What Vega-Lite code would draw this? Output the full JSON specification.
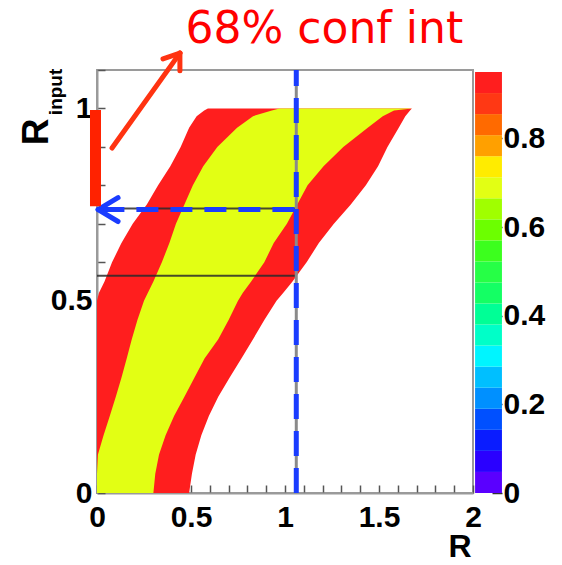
{
  "$schema": "https://vega.github.io/schema/vega-lite/v6.json",
  "width": 376,
  "height": 423,
  "autosize": {"type": "none"},
  "padding": {"left": 97, "top": 70, "right": 89, "bottom": 72},
  "background": "white",
  "config": {
    "view": {"stroke": "#9a9a9a", "strokeWidth": 2},
    "axis": {
      "labelFont": "Liberation Sans",
      "labelFontWeight": "bold",
      "labelFontSize": 30,
      "labelColor": "#000000",
      "tickColor": "#555555",
      "tickWidth": 1.5,
      "domainColor": "#9a9a9a",
      "domainWidth": 2,
      "grid": false,
      "labelFlush": false,
      "labelOverlap": false,
      "labelBound": false,
      "zindex": 1
    },
    "axisBottom": {
      "tickCount": 20,
      "labelExpr": "abs(datum.value*2 - round(datum.value*2)) < 0.000001 ? format(datum.value, '~g') : ''",
      "tickSize": -8,
      "labelPadding": 17
    },
    "axisLeft": {
      "tickCount": 11,
      "labelExpr": "abs(datum.value*2 - round(datum.value*2)) < 0.000001 ? format(datum.value, '~g') : ''",
      "tickSize": -8,
      "labelPadding": 13
    }
  },
  "datasets": {
    "belt": [
      {"band": "95", "level": 0.93, "y": 0.0, "lo": 0.0, "hi": 0.49},
      {"band": "95", "level": 0.93, "y": 0.05, "lo": 0.0, "hi": 0.505},
      {"band": "95", "level": 0.93, "y": 0.1, "lo": 0.0, "hi": 0.525},
      {"band": "95", "level": 0.93, "y": 0.15, "lo": 0.0, "hi": 0.555},
      {"band": "95", "level": 0.93, "y": 0.2, "lo": 0.0, "hi": 0.595},
      {"band": "95", "level": 0.93, "y": 0.25, "lo": 0.0, "hi": 0.645},
      {"band": "95", "level": 0.93, "y": 0.3, "lo": 0.0, "hi": 0.705},
      {"band": "95", "level": 0.93, "y": 0.35, "lo": 0.0, "hi": 0.768},
      {"band": "95", "level": 0.93, "y": 0.4, "lo": 0.0, "hi": 0.83},
      {"band": "95", "level": 0.93, "y": 0.45, "lo": 0.0, "hi": 0.89},
      {"band": "95", "level": 0.93, "y": 0.5, "lo": 0.0, "hi": 0.955},
      {"band": "95", "level": 0.93, "y": 0.52, "lo": 0.01, "hi": 0.99},
      {"band": "95", "level": 0.93, "y": 0.55, "lo": 0.04, "hi": 1.04},
      {"band": "95", "level": 0.93, "y": 0.6, "lo": 0.08, "hi": 1.115},
      {"band": "95", "level": 0.93, "y": 0.65, "lo": 0.13, "hi": 1.18},
      {"band": "95", "level": 0.93, "y": 0.7, "lo": 0.19, "hi": 1.26},
      {"band": "95", "level": 0.93, "y": 0.75, "lo": 0.265, "hi": 1.35},
      {"band": "95", "level": 0.93, "y": 0.8, "lo": 0.325, "hi": 1.43},
      {"band": "95", "level": 0.93, "y": 0.85, "lo": 0.39, "hi": 1.495},
      {"band": "95", "level": 0.93, "y": 0.9, "lo": 0.445, "hi": 1.545},
      {"band": "95", "level": 0.93, "y": 0.95, "lo": 0.49, "hi": 1.605},
      {"band": "95", "level": 0.93, "y": 0.98, "lo": 0.53, "hi": 1.64},
      {"band": "95", "level": 0.93, "y": 0.995, "lo": 0.57, "hi": 1.665},
      {"band": "95", "level": 0.93, "y": 1.0, "lo": 0.59, "hi": 1.675},
      {"band": "68", "level": 0.69, "y": 0.0, "lo": 0.0, "hi": 0.3},
      {"band": "68", "level": 0.69, "y": 0.05, "lo": 0.0, "hi": 0.31},
      {"band": "68", "level": 0.69, "y": 0.1, "lo": 0.005, "hi": 0.33},
      {"band": "68", "level": 0.69, "y": 0.15, "lo": 0.035, "hi": 0.365},
      {"band": "68", "level": 0.69, "y": 0.2, "lo": 0.068, "hi": 0.41},
      {"band": "68", "level": 0.69, "y": 0.25, "lo": 0.1, "hi": 0.465},
      {"band": "68", "level": 0.69, "y": 0.3, "lo": 0.13, "hi": 0.518},
      {"band": "68", "level": 0.69, "y": 0.35, "lo": 0.158, "hi": 0.572},
      {"band": "68", "level": 0.69, "y": 0.4, "lo": 0.185, "hi": 0.645},
      {"band": "68", "level": 0.69, "y": 0.45, "lo": 0.215, "hi": 0.7},
      {"band": "68", "level": 0.69, "y": 0.5, "lo": 0.25, "hi": 0.75},
      {"band": "68", "level": 0.69, "y": 0.52, "lo": 0.27, "hi": 0.775},
      {"band": "68", "level": 0.69, "y": 0.55, "lo": 0.3, "hi": 0.82},
      {"band": "68", "level": 0.69, "y": 0.6, "lo": 0.345, "hi": 0.89},
      {"band": "68", "level": 0.69, "y": 0.65, "lo": 0.385, "hi": 0.94},
      {"band": "68", "level": 0.69, "y": 0.7, "lo": 0.42, "hi": 1.01},
      {"band": "68", "level": 0.69, "y": 0.75, "lo": 0.465, "hi": 1.065},
      {"band": "68", "level": 0.69, "y": 0.8, "lo": 0.51, "hi": 1.12},
      {"band": "68", "level": 0.69, "y": 0.85, "lo": 0.565, "hi": 1.205},
      {"band": "68", "level": 0.69, "y": 0.9, "lo": 0.64, "hi": 1.31},
      {"band": "68", "level": 0.69, "y": 0.95, "lo": 0.745, "hi": 1.44},
      {"band": "68", "level": 0.69, "y": 0.98, "lo": 0.83, "hi": 1.52},
      {"band": "68", "level": 0.69, "y": 0.995, "lo": 0.93, "hi": 1.58},
      {"band": "68", "level": 0.69, "y": 1.0, "lo": 0.97, "hi": 1.675}
    ],
    "palette": [
      {"lo": 0.0, "hi": 0.0475, "mid": 0.02375},
      {"lo": 0.0475, "hi": 0.095, "mid": 0.07125},
      {"lo": 0.095, "hi": 0.1425, "mid": 0.11875},
      {"lo": 0.1425, "hi": 0.19, "mid": 0.16625},
      {"lo": 0.19, "hi": 0.2375, "mid": 0.21375},
      {"lo": 0.2375, "hi": 0.285, "mid": 0.26125},
      {"lo": 0.285, "hi": 0.3325, "mid": 0.30875},
      {"lo": 0.3325, "hi": 0.38, "mid": 0.35625},
      {"lo": 0.38, "hi": 0.4275, "mid": 0.40375},
      {"lo": 0.4275, "hi": 0.475, "mid": 0.45125},
      {"lo": 0.475, "hi": 0.5225, "mid": 0.49875},
      {"lo": 0.5225, "hi": 0.57, "mid": 0.54625},
      {"lo": 0.57, "hi": 0.6175, "mid": 0.59375},
      {"lo": 0.6175, "hi": 0.665, "mid": 0.64125},
      {"lo": 0.665, "hi": 0.7125, "mid": 0.68875},
      {"lo": 0.7125, "hi": 0.76, "mid": 0.73625},
      {"lo": 0.76, "hi": 0.8075, "mid": 0.78375},
      {"lo": 0.8075, "hi": 0.855, "mid": 0.83125},
      {"lo": 0.855, "hi": 0.9025, "mid": 0.87875},
      {"lo": 0.9025, "hi": 0.95, "mid": 0.92625}
    ]
  },
  "layer": [
    {
      "layer": [
        {
          "data": {"name": "belt"},
          "transform": [{"filter": "datum.band == '95'"}],
          "mark": {"type": "area", "orient": "horizontal"},
          "encoding": {
            "y": {
              "field": "y", "type": "quantitative",
              "scale": {"domain": [0, 1.1], "nice": false, "zero": false},
              "axis": {"title": null}
            },
            "x": {
              "field": "lo", "type": "quantitative",
              "scale": {"domain": [0, 2], "nice": false, "zero": false},
              "axis": {"title": null}
            },
            "x2": {"field": "hi"},
            "color": {
              "field": "level", "type": "quantitative",
              "scale": {
                "type": "quantize", "domain": [0, 0.95],
                "range": ["#5a00ff", "#2a00ff", "#0a1cff", "#0050ff", "#0090ff", "#00bfff", "#00f5ff", "#00ffc8", "#00ff96", "#14ff64", "#26ff46", "#3cff1e", "#6cff00", "#a0ff00", "#e2ff14", "#ffec00", "#ffa000", "#ff6a00", "#ff3814", "#ff1e1e"]
              },
              "legend": null
            }
          }
        },
        {
          "data": {"name": "belt"},
          "transform": [{"filter": "datum.band == '68'"}],
          "mark": {"type": "area", "orient": "horizontal"},
          "encoding": {
            "y": {"field": "y", "type": "quantitative"},
            "x": {"field": "lo", "type": "quantitative"},
            "x2": {"field": "hi"},
            "color": {
              "field": "level", "type": "quantitative",
              "scale": {
                "type": "quantize", "domain": [0, 0.95],
                "range": ["#5a00ff", "#2a00ff", "#0a1cff", "#0050ff", "#0090ff", "#00bfff", "#00f5ff", "#00ffc8", "#00ff96", "#14ff64", "#26ff46", "#3cff1e", "#6cff00", "#a0ff00", "#e2ff14", "#ffec00", "#ffa000", "#ff6a00", "#ff3814", "#ff1e1e"]
              },
              "legend": null
            }
          }
        },
        {
          "data": {"values": [{"at": 0.74}, {"at": 0.565}]},
          "mark": {"type": "rule", "color": "#2a2a2a", "strokeWidth": 2, "opacity": 0.85},
          "encoding": {
            "y": {"field": "at", "type": "quantitative"},
            "x": {"datum": 0},
            "x2": {"datum": 1.06}
          }
        },
        {
          "data": {"values": [{"at": 1.06}]},
          "mark": {"type": "rule", "color": "#8a8a8a", "strokeWidth": 3},
          "encoding": {
            "x": {"field": "at", "type": "quantitative"},
            "y": {"datum": 0},
            "y2": {"datum": 1.1}
          }
        },
        {
          "data": {"values": [{"at": 1.06}]},
          "mark": {"type": "rule", "color": "#1a3cff", "strokeWidth": 5, "strokeDash": [25, 12]},
          "encoding": {
            "x": {"field": "at", "type": "quantitative"},
            "y": {"datum": 0},
            "y2": {"datum": 1.1}
          }
        },
        {
          "data": {"values": [{"at": 0.737}]},
          "mark": {"type": "rule", "color": "#1a3cff", "strokeWidth": 5, "strokeDash": [22, 12]},
          "encoding": {
            "y": {"field": "at", "type": "quantitative"},
            "x": {"datum": 1.05},
            "x2": {"datum": 0.02}
          }
        },
        {
          "data": {"values": [{"ya": 0.737, "yb": 0.768}, {"ya": 0.737, "yb": 0.706}]},
          "mark": {"type": "rule", "color": "#1a3cff", "strokeWidth": 5, "strokeCap": "round", "clip": false},
          "encoding": {
            "x": {"datum": 0.006},
            "y": {"field": "ya", "type": "quantitative"},
            "x2": {"datum": 0.112},
            "y2": {"field": "yb"}
          }
        },
        {
          "data": {"values": [{"from": 0.746, "to": 0.996}]},
          "mark": {"type": "rule", "color": "#ff2200", "strokeWidth": 11, "clip": false},
          "encoding": {
            "x": {"datum": -0.008},
            "y": {"field": "from", "type": "quantitative"},
            "y2": {"field": "to"}
          }
        },
        {
          "data": {"values": [
            {"xa": 0.08, "ya": 0.897, "xb": 0.441, "yb": 1.144},
            {"xa": 0.441, "ya": 1.144, "xb": 0.351, "yb": 1.129},
            {"xa": 0.441, "ya": 1.144, "xb": 0.441, "yb": 1.098}
          ]},
          "mark": {"type": "rule", "color": "#ff3311", "strokeWidth": 5, "strokeCap": "round", "clip": false},
          "encoding": {
            "x": {"field": "xa", "type": "quantitative"},
            "y": {"field": "ya", "type": "quantitative"},
            "x2": {"field": "xb"},
            "y2": {"field": "yb"}
          }
        },
        {
          "data": {"values": [{"label": "68% conf int"}]},
          "mark": {"type": "text", "font": "DejaVu Sans", "fontSize": 44, "color": "#ff0000", "align": "left", "baseline": "alphabetic", "clip": false},
          "encoding": {
            "x": {"datum": 0.471},
            "y": {"datum": 1.17},
            "text": {"field": "label"}
          }
        },
        {
          "data": {"values": [{"label": "R"}]},
          "mark": {"type": "text", "font": "Liberation Sans", "fontWeight": "bold", "fontSize": 37, "color": "#000000", "align": "center", "baseline": "middle", "angle": 270, "clip": false},
          "encoding": {
            "x": {"datum": -0.319},
            "y": {"datum": 0.939},
            "text": {"field": "label"}
          }
        },
        {
          "data": {"values": [{"label": "input"}]},
          "mark": {"type": "text", "font": "Liberation Sans", "fontWeight": "bold", "fontSize": 19, "color": "#000000", "align": "center", "baseline": "middle", "angle": 270, "clip": false},
          "encoding": {
            "x": {"datum": -0.218},
            "y": {"datum": 1.043},
            "text": {"field": "label"}
          }
        },
        {
          "data": {"values": [{"label": "R"}]},
          "mark": {"type": "text", "font": "Liberation Sans", "fontWeight": "bold", "fontSize": 32, "color": "#000000", "align": "center", "baseline": "middle", "clip": false},
          "encoding": {
            "x": {"datum": 1.931},
            "y": {"datum": -0.14},
            "text": {"field": "label"}
          }
        }
      ]
    },
    {
      "data": {"name": "palette"},
      "mark": {"type": "rect", "clip": false},
      "encoding": {
        "x": {"datum": 2.011},
        "x2": {"datum": 2.154},
        "y": {
          "field": "lo", "type": "quantitative",
          "scale": {"domain": [0, 0.9545], "nice": false, "zero": false},
          "axis": {
            "title": null,
            "orient": "right",
            "offset": 29,
            "domain": false,
            "values": [0, 0.2, 0.4, 0.6, 0.8],
            "labelExpr": "format(datum.value, '~g')",
            "tickSize": -10,
            "tickColor": "#333333",
            "labelPadding": 11
          }
        },
        "y2": {"field": "hi"},
        "color": {
          "field": "mid", "type": "quantitative",
          "scale": {
            "type": "quantize", "domain": [0, 0.95],
            "range": ["#5a00ff", "#2a00ff", "#0a1cff", "#0050ff", "#0090ff", "#00bfff", "#00f5ff", "#00ffc8", "#00ff96", "#14ff64", "#26ff46", "#3cff1e", "#6cff00", "#a0ff00", "#e2ff14", "#ffec00", "#ffa000", "#ff6a00", "#ff3814", "#ff1e1e"]
          },
          "legend": null
        }
      }
    }
  ],
  "resolve": {"scale": {"y": "independent"}, "axis": {"y": "independent"}}
}
